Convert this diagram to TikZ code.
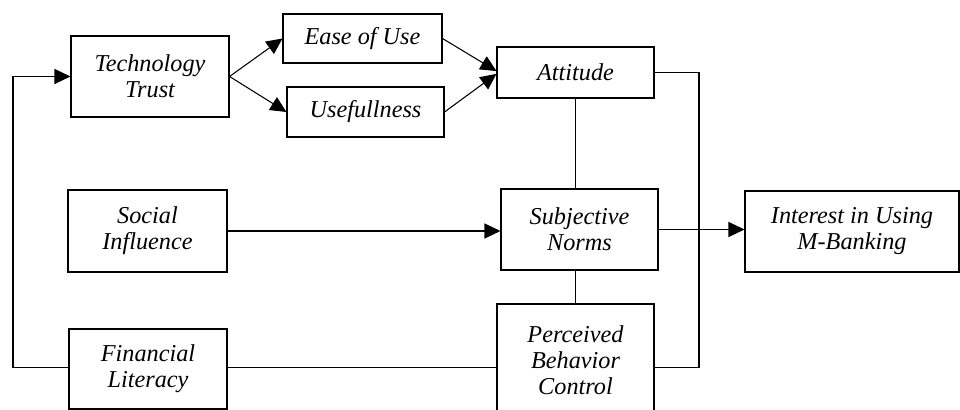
\documentclass[tikz,border=0pt]{standalone}
\usepackage{fontspec}
\setmainfont{Liberation Serif}
\usepackage{tikz}
\usetikzlibrary{arrows.meta}
\tikzset{
Boite/.style={
 draw=black, 
 line width=0.6pt, 
 align=center, 
 inner sep=0pt, 
 font=\fontsize{13.8}{14.8}\selectfont\itshape
 },
Trait/.style={
 draw=black, 
 line width=0.6pt
 },
PFleche/.style={
 Trait, 
 -{Triangle[length=0.32cm,width=0.3cm]}
 }
}
\begin{document}
\begin{tikzpicture}
\useasboundingbox (0,0) rectangle (19.2,8.2);
\node[Boite,minimum width=3.16cm,minimum height=1.62cm] (tech) at (3.00,6.67) {Technology\\Trust};
\node[Boite,minimum width=3.18cm,minimum height=0.98cm] (ease) at (7.25,7.43) {Ease of Use};
\node[Boite,minimum width=3.14cm,minimum height=1.00cm] (useful) at (7.31,5.96) {Usefullness};
\node[Boite,minimum width=3.14cm,minimum height=1.02cm] (att) at (11.51,6.75) {Attitude};
\node[Boite,minimum width=3.18cm,minimum height=1.64cm] (social) at (2.95,3.58) {Social\\Influence};
\node[Boite,minimum width=3.14cm,minimum height=1.62cm] (norms) at (11.59,3.61) {Subjective\\Norms};
\node[Boite,minimum width=4.28cm,minimum height=1.62cm] (interest) at (17.04,3.57) {Interest in Using\\M-Banking};
\node[Boite,minimum width=3.16cm,minimum height=1.60cm] (fin) at (2.96,0.82) {Financial\\Literacy};
\node[Boite,minimum width=3.14cm,minimum height=2.24cm] (pbc) at (11.51,1.00) {Perceived\\Behavior\\Control};
\coordinate (gauche) at (0.26,0.85);
\coordinate (droite) at (13.98,0.85);
% fleches du haut
\draw[PFleche] (tech.east) -- (ease.west);
\draw[PFleche] (tech.east) -- (useful.west);
\draw[PFleche] (ease.east) -- ([yshift=0.8pt]att.west);
\draw[PFleche] (useful.east) -- ([yshift=-0.8pt]att.west);
% liaisons
\draw[Trait] (att.south) -- (att.south |- norms.north);
\draw[Trait] (att.south |- norms.south) -- (att.south |- pbc.north);
\draw[Trait] (att.east) -| (droite) -- (droite -| pbc.east);
\draw[Trait] (fin.east |- gauche) -- (gauche -| pbc.west);
\draw[PFleche] (fin.west |- gauche) -- (gauche) |- (tech.west);
\draw[PFleche] (social.east) -- (social.east -| norms.west);
\draw[PFleche] (norms.east) -- (norms.east -| interest.west);
\end{tikzpicture}
\end{document}
